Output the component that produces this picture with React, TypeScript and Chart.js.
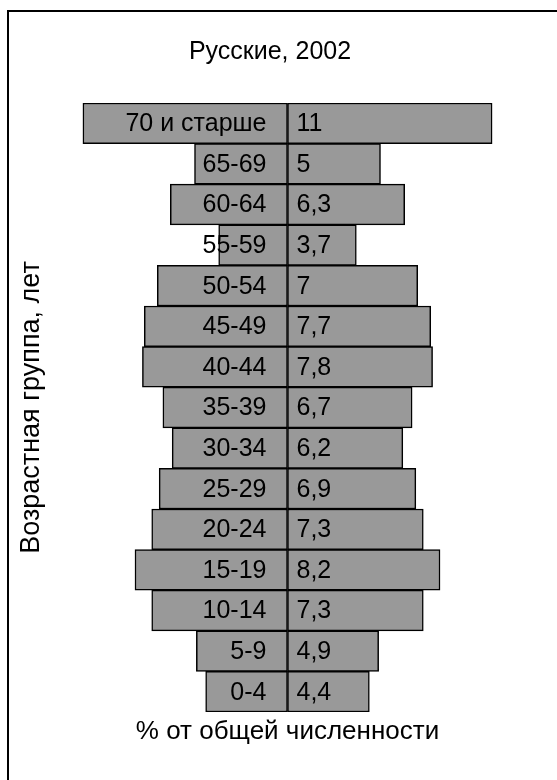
import { useEffect, useRef } from 'react';
import { Chart, registerables } from 'chart.js';

Chart.register(...registerables);

const ageGroups: string[] = [
  '70 и старше', '65-69', '60-64', '55-59', '50-54', '45-49', '40-44', '35-39',
  '30-34', '25-29', '20-24', '15-19', '10-14', '5-9', '0-4',
];
const shares: number[] = [11, 5, 6.3, 3.7, 7, 7.7, 7.8, 6.7, 6.2, 6.9, 7.3, 8.2, 7.3, 4.9, 4.4];
const chartTitle = 'Русские, 2002';
const xAxisTitle = '% от общей численности';
const yAxisTitle = 'Возрастная группа, лет';
const xLimit = 12.93;

const FONT = '"Liberation Sans", Arial, sans-serif';
const FONT_SIZE = 25;

const labelPlugin = {
  id: 'pyramidLabels',
  afterDatasetsDraw(chart: any) {
    const ctx = chart.ctx;
    const xScale = chart.scales.x;
    const cx = xScale.getPixelForValue(0);
    const meta = chart.getDatasetMeta(0);
    ctx.save();
    ctx.font = `${FONT_SIZE}px ${FONT}`;
    ctx.fillStyle = '#000';
    ctx.textBaseline = 'middle';
    meta.data.forEach((el: any, i: number) => {
      const y = el.y + 1;
      ctx.textAlign = 'right';
      ctx.fillText(ageGroups[i], cx - 21, y);
      ctx.textAlign = 'left';
      ctx.fillText(String(shares[i]).replace('.', ','), cx + 9, y);
    });
    ctx.restore();
  },
};

export default function App() {
  const ref = useRef<HTMLCanvasElement>(null);
  useEffect(() => {
    if (!ref.current) return;
    const chart = new Chart(ref.current, {
      type: 'bar',
      data: {
        labels: ageGroups,
        datasets: [
          {
            data: shares.map((v) => -v),
            backgroundColor: '#999999',
            borderColor: '#000000',
            borderWidth: 1.5,
            borderSkipped: false,
            categoryPercentage: 1,
            barPercentage: 1,
          },
          {
            data: shares,
            backgroundColor: '#999999',
            borderColor: '#000000',
            borderWidth: 1.5,
            borderSkipped: false,
            categoryPercentage: 1,
            barPercentage: 1,
          },
        ],
      },
      options: {
        indexAxis: 'y',
        responsive: false,
        animation: false,
        devicePixelRatio: 1,
        layout: { padding: { left: 12, right: 29, top: 0, bottom: 20 } },
        plugins: {
          legend: { display: false },
          tooltip: { enabled: false },
          title: {
            display: true,
            text: chartTitle,
            color: '#000',
            font: { family: FONT, size: 25, weight: 'normal' },
            padding: { top: 37, bottom: 36 },
          },
        },
        scales: {
          x: {
            type: 'linear',
            min: -xLimit,
            max: xLimit,
            stacked: true,
            grid: { display: false },
            border: { display: false },
            ticks: { display: false },
            title: {
              display: true,
              text: xAxisTitle,
              color: '#000',
              font: { family: FONT, size: 26 },
              padding: { top: 0, bottom: 12.4 },
            },
            afterFit: (s: any) => { s.height = 48; },
          },
          y: {
            stacked: true,
            grid: { display: false },
            border: { display: false },
            ticks: { display: false },
            title: {
              display: true,
              text: yAxisTitle,
              color: '#000',
              font: { family: FONT, size: 27 },
              padding: { top: 3.8, bottom: 0 },
            },
            afterFit: (s: any) => { s.width = 35; },
          },
        },
      },
      plugins: [labelPlugin],
    });
    return () => chart.destroy();
  }, []);

  return (
    <div style={{ position: 'fixed', left: 0, top: 0, width: 557, height: 780, background: '#fff', overflow: 'hidden' }}>
      <div
        style={{
          position: 'absolute', left: 7, top: 10, width: 620, height: 820,
          borderLeft: '2px solid #000', borderTop: '2px solid #000',
        }}
      />
      <canvas ref={ref} width={557} height={780} style={{ position: 'absolute', left: 0, top: 0, width: 557, height: 780 }} />
    </div>
  );
}
